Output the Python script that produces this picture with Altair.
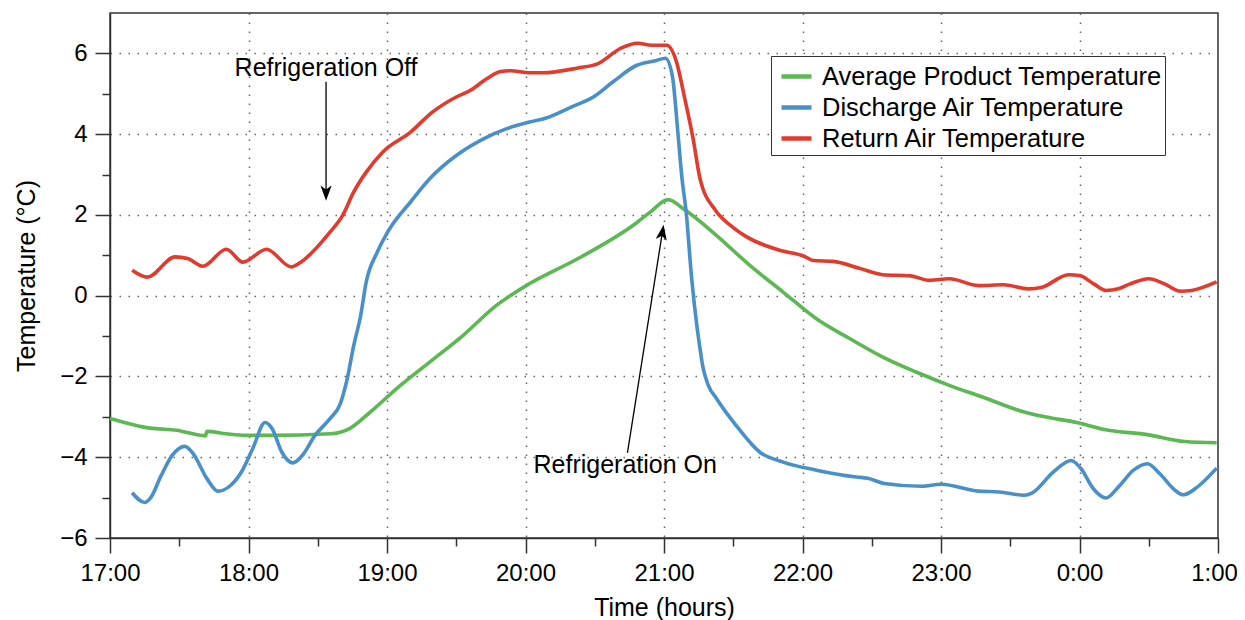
import altair as alt
import pandas as pd

FONT = "Liberation Sans"

# ---- data: (time in hours, 25 = 1:00 next day ; temperature in deg C) ----
series_names = ["Average Product Temperature", "Discharge Air Temperature", "Return Air Temperature"]
series_colors = ["#5cb853", "#4a90c8", "#e23a2c"]

green = [(17.0, -3.04), (17.29, -3.28), (17.48, -3.33), (17.69, -3.47), (17.70, -3.36), (17.84, -3.42),
         (17.98, -3.46), (18.17, -3.46), (18.59, -3.42), (18.73, -3.29), (18.88, -2.88), (19.07, -2.30),
         (19.31, -1.64), (19.55, -0.98), (19.79, -0.24), (20.03, 0.30), (20.38, 0.92), (20.80, 1.80),
         (20.90, 2.07), (21.03, 2.38), (21.14, 2.15), (21.38, 1.49), (21.62, 0.75), (21.86, 0.09),
         (22.10, -0.57), (22.34, -1.06), (22.58, -1.52), (22.82, -1.89), (23.06, -2.22), (23.30, -2.51),
         (23.60, -2.88), (23.75, -3.00), (23.98, -3.14), (24.19, -3.32), (24.49, -3.44), (24.76, -3.61),
         (24.99, -3.64)]

blue = [(17.16, -4.88), (17.25, -5.12), (17.29, -5.02), (17.37, -4.45), (17.45, -3.95), (17.54, -3.73),
        (17.60, -3.91), (17.70, -4.53), (17.78, -4.84), (17.87, -4.70), (17.95, -4.36), (18.03, -3.79),
        (18.12, -3.14), (18.17, -3.29), (18.24, -3.87), (18.32, -4.14), (18.39, -3.95), (18.48, -3.46),
        (18.59, -3.04), (18.66, -2.70), (18.71, -2.10), (18.76, -1.23), (18.81, -0.49), (18.85, 0.34),
        (18.93, 1.08), (19.02, 1.66), (19.17, 2.32), (19.31, 2.90), (19.50, 3.47), (19.70, 3.89),
        (19.86, 4.13), (20.03, 4.30), (20.15, 4.40), (20.33, 4.67), (20.49, 4.92), (20.63, 5.29),
        (20.80, 5.70), (20.94, 5.82), (21.01, 5.88), (21.06, 5.45), (21.10, 4.05), (21.13, 2.90),
        (21.16, 2.07), (21.20, 0.42), (21.24, -0.82), (21.26, -1.31), (21.28, -1.75), (21.32, -2.22),
        (21.38, -2.55), (21.52, -3.21), (21.69, -3.87), (21.86, -4.12), (22.10, -4.32), (22.39, -4.49),
        (22.47, -4.52), (22.59, -4.65), (22.86, -4.72), (23.00, -4.67), (23.27, -4.84), (23.42, -4.86),
        (23.60, -4.94), (23.66, -4.88), (23.81, -4.37), (23.94, -4.08), (24.01, -4.28), (24.10, -4.78),
        (24.19, -5.01), (24.28, -4.74), (24.39, -4.32), (24.49, -4.16), (24.58, -4.41), (24.69, -4.82),
        (24.75, -4.93), (24.85, -4.74), (24.99, -4.27)]

red = [(17.16, 0.63), (17.27, 0.46), (17.47, 0.96), (17.56, 0.92), (17.67, 0.73), (17.84, 1.15),
       (17.96, 0.83), (18.13, 1.15), (18.31, 0.71), (18.36, 0.79), (18.59, 1.58), (18.68, 1.99),
       (18.76, 2.57), (18.85, 3.06), (18.97, 3.56), (19.17, 4.05), (19.33, 4.55), (19.50, 4.92),
       (19.60, 5.08), (19.72, 5.37), (19.82, 5.55), (19.89, 5.57), (20.03, 5.52), (20.13, 5.52),
       (20.38, 5.64), (20.52, 5.74), (20.69, 6.13), (20.81, 6.25), (20.91, 6.20), (21.02, 6.20),
       (21.09, 5.79), (21.15, 4.88), (21.21, 3.89), (21.26, 2.90), (21.37, 2.12), (21.48, 1.74),
       (21.60, 1.45), (21.84, 1.12), (22.01, 0.98), (22.08, 0.87), (22.22, 0.85), (22.42, 0.67),
       (22.58, 0.52), (22.78, 0.49), (22.92, 0.38), (23.06, 0.42), (23.27, 0.25), (23.45, 0.27),
       (23.63, 0.17), (23.73, 0.21), (23.92, 0.52), (24.00, 0.50), (24.10, 0.30), (24.19, 0.13),
       (24.28, 0.17), (24.37, 0.30), (24.50, 0.42), (24.61, 0.30), (24.73, 0.11), (24.81, 0.13),
       (24.99, 0.34)]

# annotations
ann_text = ["Refrigeration Off", "Refrigeration On"]
ann_x = [18.56, 20.72]
ann_y = [5.64, -4.20]

arrow_x = [18.56, 20.736]
arrow_y = [5.30, -3.89]
arrow_x2 = [18.56, 20.985]
arrow_y2 = [2.60, 1.50]
head_x = [18.56, 20.988]
head_y = [2.55, 1.56]
head_angle = [180, 9]

x_ticks = [17 + 0.25 * i for i in range(33)]
y_ticks = list(range(-6, 7))

# ---- tables ----
rows = []
for name, pts in zip(series_names, [green, blue, red]):
    for t, v in pts:
        rows.append({"series": name, "t": t, "v": v})
df = pd.DataFrame(rows)
ann_df = pd.DataFrame({"text": ann_text, "x": ann_x, "y": ann_y})
arr_df = pd.DataFrame({"x": arrow_x, "y": arrow_y, "x2": arrow_x2, "y2": arrow_y2})
head_df = pd.DataFrame({"x": head_x, "y": head_y, "angle": head_angle})

xscale = alt.Scale(domain=[17, 25], nice=False, zero=False)
yscale = alt.Scale(domain=[-6, 7], nice=False, zero=False)

x_axis = alt.Axis(
    values=x_ticks,
    labelExpr="datum.value % 1 === 0 ? (datum.value % 24) + ':00' : ''",
    title="Time (hours)",
    labelFlush=False,
    labelOverlap=False,
    labelOffset={"condition": {"test": "datum.value >= 25", "value": -4}, "value": 0},
    tickSize={"condition": {"test": "datum.value % 1 === 0", "value": 15}, "value": 8},
    gridOpacity={"condition": {"test": "datum.value % 1 === 0 && datum.value > 17 && datum.value < 25",
                               "value": 1}, "value": 0},
    labelPadding=8,
    titlePadding=10,
)
y_axis = alt.Axis(
    values=y_ticks,
    labelExpr="datum.value % 2 === 0 ? (datum.value < 0 ? '\u2212' + abs(datum.value) : '' + datum.value) : ''",
    title="Temperature (\u00b0C)",
    labelFlush=False,
    labelOverlap=False,
    tickSize={"condition": {"test": "datum.value % 2 === 0", "value": 15}, "value": 8},
    gridOpacity={"condition": {"test": "datum.value % 2 === 0 && datum.value > -6", "value": 1},
                 "value": 0},
    labelPadding=8,
    titlePadding=20,
)

lines = alt.Chart(df).mark_line(strokeWidth=3.6, interpolate="monotone").encode(
    x=alt.X("t:Q", scale=xscale, axis=x_axis),
    y=alt.Y("v:Q", scale=yscale, axis=y_axis),
    color=alt.Color(
        "series:N",
        scale=alt.Scale(domain=series_names, range=series_colors),
        sort=series_names,
        legend=alt.Legend(
            orient="none", legendX=661, legendY=43, title=None,
            symbolType="stroke", symbolSize=900, symbolStrokeWidth=4.5, symbolOffset=5,
            labelFontSize=25.5, labelFont=FONT, labelColor="black", labelLimit=0,
            labelOffset=8, strokeColor="#333", fillColor="white", padding=3,
            rowPadding=0,
        ),
    ),
    detail="series:N",
)

texts = alt.Chart(ann_df).mark_text(font=FONT, fontSize=25, color="black", baseline="middle",
                                    align="center").encode(
    x=alt.X("x:Q", scale=xscale), y=alt.Y("y:Q", scale=yscale), text="text:N")

rules = alt.Chart(arr_df).mark_rule(color="black", strokeWidth=1.3).encode(
    x=alt.X("x:Q", scale=xscale), y=alt.Y("y:Q", scale=yscale), x2="x2:Q", y2="y2:Q")

heads = alt.Chart(head_df).mark_point(
    shape="M0,-1 L0.7,0.9 L0,0.4 L-0.7,0.9 Z", filled=True, size=256, color="black", opacity=1,
).encode(x=alt.X("x:Q", scale=xscale), y=alt.Y("y:Q", scale=yscale),
         angle=alt.Angle("angle:Q", scale=None))

chart = alt.layer(lines, rules, heads, texts).properties(
    width=1108, height=525,
    padding={"left": 102, "top": 5, "right": 19, "bottom": 82},
    autosize=alt.AutoSizeParams(type="none"),
).configure_view(stroke="#333", strokeWidth=1.5).configure_axis(
    labelFont=FONT, titleFont=FONT, labelFontSize=24, titleFontSize=25, titleFontWeight="normal",
    labelColor="black", titleColor="black", domainColor="#333", domainWidth=1.5,
    tickColor="#333", tickWidth=1.5, gridColor="#666", gridWidth=1.5, gridDash=[1.5, 7.5],
)

chart.save("out.html", embed_options={"renderer": "svg", "actions": False})
